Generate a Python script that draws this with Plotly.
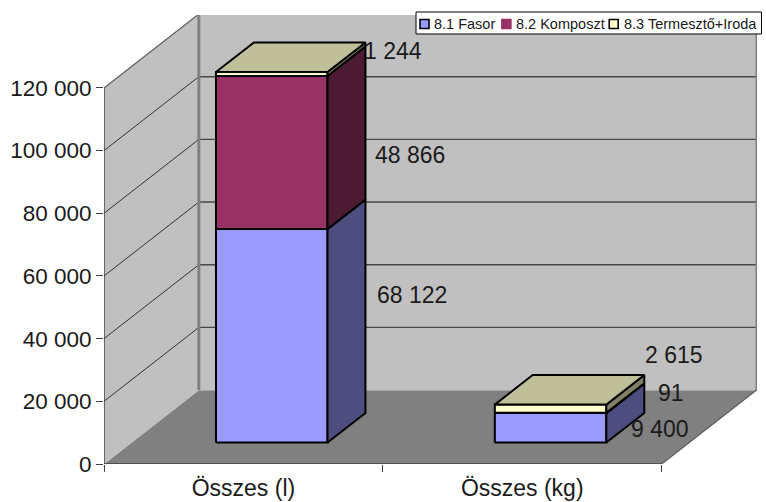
import plotly.graph_objects as go

# ---- data ----
categories = ["Összes (l)", "Összes (kg)"]
series_names = ["8.1 Fasor", "8.2 Komposzt", "8.3 Termesztő+Iroda"]
fasor = [68122, 9400]
komposzt = [48866, 91]
termeszto = [1244, 2615]
fasor_labels = ["68 122", "9 400"]
komposzt_labels = ["48 866", "91"]
termeszto_labels = ["1 244", "2 615"]
y_ticks = [0, 20000, 40000, 60000, 80000, 100000, 120000]
y_ticktext = ["0", "20 000", "40 000", "60 000", "80 000", "100 000", "120 000"]

# ---- styling / projection ----
W, H = 766, 502
L, R, T, B = 103.5, 757.5, 15, 464.5
CAT_PX = 279.25
UNIT_PX = 376.5 / 120000
DX = 95 / CAT_PX            # depth shift in category units
DY = 74 / UNIT_PX           # depth shift in value units
F0, F1 = 0.29, 0.69
BAR_W = 0.4
BAR_C = 0.503
face = ["#9999ff", "#993366", "#ffffcc"]
side = ["#4d4d80", "#4d1a33", "#808066"]
top = ["#bfbf99", "#bfbf99", "#bfbf99"]
WALL, FLOOR, EDGE = "#c0c0c0", "#808080", "#808080"
FONT = "Liberation Sans, Arial, sans-serif"


def proj(x, v, f):
    return x + DX * f, v + DY * f


fig = go.Figure()


def poly(points, fill, line="black", width=2):
    xs = [p[0] for p in points] + [points[0][0]]
    ys = [p[1] for p in points] + [points[0][1]]
    fig.add_trace(go.Scatter(x=xs, y=ys, mode="lines", fill="toself", fillcolor=fill,
                             line=dict(color=line, width=width), hoverinfo="skip",
                             showlegend=False, cliponaxis=False))


def seg(p, q, color, width):
    fig.add_trace(go.Scatter(x=[p[0], q[0]], y=[p[1], q[1]], mode="lines",
                             line=dict(color=color, width=width), hoverinfo="skip",
                             showlegend=False, cliponaxis=False))


vmax = y_ticks[-1]
nc = len(categories)
# floor and walls
poly([proj(0, 0, 0), proj(nc, 0, 0), proj(nc, 0, 1), proj(0, 0, 1)], FLOOR, FLOOR, 1)
poly([proj(0, 0, 0), proj(0, 0, 1), proj(0, vmax, 1), proj(0, vmax, 0)], WALL, WALL, 1)
poly([proj(0, 0, 1), proj(nc, 0, 1), proj(nc, vmax, 1), proj(0, vmax, 1)], WALL, WALL, 1)
# gridlines
for v in y_ticks[1:-1]:
    seg(proj(0, v, 0), proj(0, v, 1), "#303030", 1)
    seg(proj(0, v, 1), proj(nc, v, 1), "#484848", 1.4)
seg(proj(0, vmax, 0), proj(0, vmax, 1), "#606060", 1.2)
seg(proj(0, vmax, 1), proj(nc, vmax, 1), EDGE, 2)
seg(proj(0, 0, 1), proj(0, vmax, 1), EDGE, 3)
seg(proj(nc, 0, 1), proj(nc, vmax, 1), EDGE, 2)
seg(proj(nc, 0, 0), proj(nc, 0, 1), "#606060", 1.2)
# axis lines
seg((0, 0), (0, vmax), "#404040", 1.4)
seg((0, 0), (nc, 0), "#404040", 1.4)

# stacked bars
stack = [fasor, komposzt, termeszto]
for c in range(nc):
    x0 = c + BAR_C - BAR_W / 2
    x1 = x0 + BAR_W
    base = 0
    for s, values in enumerate(stack):
        tip = base + values[c]
        poly([proj(x0, base, F0), proj(x1, base, F0), proj(x1, tip, F0), proj(x0, tip, F0)], face[s])
        poly([proj(x1, base, F0), proj(x1, base, F1), proj(x1, tip, F1), proj(x1, tip, F0)], side[s])
        poly([proj(x0, tip, F0), proj(x1, tip, F0), proj(x1, tip, F1), proj(x0, tip, F1)], top[s])
        base = tip

# value labels anchored on each stack segment, nudged in pixels
annotations = []
shifts = [[(84, 41), (82, -2), (65, 23)], [(54, -1), (65, 20), (68, 54)]]
label_sets = [fasor_labels, komposzt_labels, termeszto_labels]
for c in range(nc):
    x1 = c + BAR_C - BAR_W / 2 + BAR_W
    base = 0
    for s, values in enumerate(stack):
        mid = base + values[c] / 2
        base += values[c]
        px, py = proj(x1, mid, F0)
        annotations.append(dict(x=px, y=py, xref="x", yref="y", text=label_sets[s][c],
                                showarrow=False, xshift=shifts[c][s][0], yshift=shifts[c][s][1],
                                font=dict(family=FONT, size=23, color="#1a1a1a")))


# legend box, placed in page pixels
def pxx(p):
    return (p - L) / (R - L)


def pxy(p):
    return (B - p) / (B - T)


shapes = [dict(type="rect", xref="paper", yref="paper", x0=pxx(416), x1=pxx(762), y0=pxy(34), y1=pxy(12),
               fillcolor="white", line=dict(color="black", width=1), layer="above")]
sym_x = [420, 502, 609.5]
txt_x = [432, 514.5, 622]
sym_line = ["black", face[1], "black"]
for i, name in enumerate(series_names):
    shapes.append(dict(type="rect", xref="paper", yref="paper", x0=pxx(sym_x[i]), x1=pxx(sym_x[i] + 9),
                       y0=pxy(28.5), y1=pxy(19.5), fillcolor=face[i],
                       line=dict(color=sym_line[i], width=1.6), layer="above"))
    annotations.append(dict(x=pxx(txt_x[i]), y=pxy(24), xref="paper", yref="paper", text=name,
                            showarrow=False, xanchor="left", yanchor="middle",
                            font=dict(family=FONT, size=14.5, color="#1a1a1a")))

fig.update_layout(
    width=W, height=H, autosize=False,
    margin=dict(l=L, r=W - R, t=T, b=H - B, pad=0),
    paper_bgcolor="white", plot_bgcolor="white",
    showlegend=False, shapes=shapes, annotations=annotations,
    xaxis=dict(range=[0, (R - L) / CAT_PX], tickmode="array", automargin=False,
               tickvals=[i + 0.5 for i in range(nc)], ticktext=categories,
               ticks="", ticklabelstandoff=8, showgrid=False, zeroline=False, showline=False,
               tickfont=dict(family=FONT, size=23, color="#1a1a1a"),
               minor=dict(tickmode="array", tickvals=list(range(nc + 1)), ticks="outside",
                          ticklen=7, tickwidth=1.4, tickcolor="#404040", showgrid=False)),
    yaxis=dict(range=[0, (B - T) / UNIT_PX], tickmode="array", tickvals=y_ticks, ticktext=y_ticktext,
               automargin=False,
               ticks="outside", ticklen=7, tickwidth=1.4, tickcolor="#404040", ticklabelstandoff=0,
               showgrid=False, zeroline=False, showline=False,
               tickfont=dict(family=FONT, size=22.5, color="#1a1a1a")),
)

fig.write_html("out.html", post_script="document.body.style.margin='0';document.body.style.overflow='hidden';",
               config={"displayModeBar": False})
